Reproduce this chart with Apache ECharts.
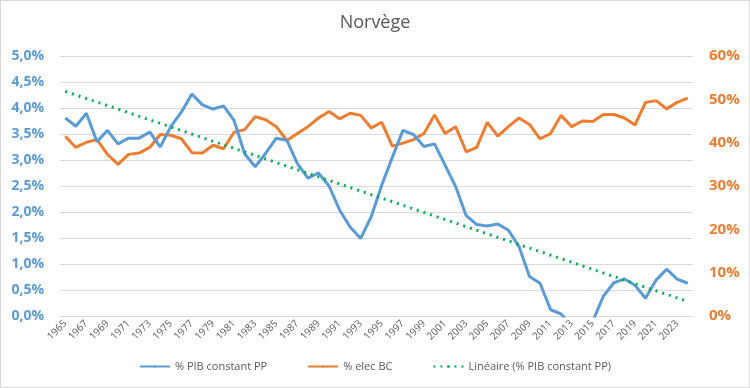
<!DOCTYPE html>
<html><head><meta charset="utf-8">
<script src="https://cdn.jsdelivr.net/npm/echarts@6/dist/echarts.min.js"></script>
<style>html,body{margin:0;padding:0;background:#fff}#c{width:750px;height:388px;box-sizing:border-box;border:1px solid #d9d9d9}</style>
</head><body><div id="c"></div>
<script>
const years = [];
for (let y = 1965; y <= 2024; y++) years.push(String(y));
const pibConstantPP = [3.81,3.65,3.90,3.35,3.57,3.31,3.42,3.42,3.54,3.25,
  3.64,3.92,4.27,4.06,3.98,4.04,3.76,3.12,2.87,3.13,
  3.42,3.38,2.93,2.65,2.75,2.50,2.04,1.71,1.49,1.91,
  2.52,3.05,3.57,3.49,3.26,3.31,2.90,2.49,1.93,1.76,
  1.73,1.77,1.65,1.34,0.76,0.63,0.12,0.04,-0.2,-0.25,
  -0.1,0.38,0.64,0.71,0.59,0.34,0.69,0.90,0.71,0.63];
const elecBC = [41.5,38.9,40.1,40.7,37.3,35.0,37.3,37.6,38.9,41.9,
  41.7,40.9,37.7,37.6,39.4,38.6,42.4,43.0,46.0,45.3,
  43.7,40.5,42.1,43.7,45.7,47.2,45.5,46.8,46.3,43.4,
  44.7,39.2,39.9,40.7,42.1,46.4,42.1,43.7,37.9,38.9,
  44.7,41.5,43.7,45.7,44.2,40.9,42.1,46.3,43.7,45.0,
  44.9,46.5,46.5,45.7,44.1,49.3,49.7,47.8,49.3,50.3];
// linear trendline endpoints
const trendStart = 4.32, trendEnd = 0.28;
const trend = years.map((y, i) => i === 0 ? trendStart : (i === years.length - 1 ? trendEnd : null));

const FONT = '"Open Sans", "Liberation Sans", sans-serif';
const chart = echarts.init(document.getElementById('c'));
chart.setOption({
  animation: false,
  textStyle: { fontFamily: FONT },
  title: { text: 'Norvège', left: 'center', top: 8, textStyle: { fontFamily: FONT, fontSize: 18, fontWeight: 'normal', color: '#595959' } },
  grid: { left: 59, right: 56, top: 55, bottom: 71 },
  legend: {
    bottom: 10, left: 'center', itemWidth: 30, itemHeight: 3, itemGap: 40,
    textStyle: { fontFamily: FONT, fontSize: 11, color: '#595959' },
    data: ['% PIB constant PP', '% elec BC', 'Linéaire (% PIB constant PP)']
  },
  xAxis: {
    type: 'category', data: years, boundaryGap: true,
    axisLine: { lineStyle: { color: '#d9d9d9' } },
    axisTick: { show: false },
    axisLabel: { interval: 1, rotate: 45, fontSize: 10, color: '#595959', margin: 6, fontFamily: FONT }
  },
  yAxis: [
    { type: 'value', min: 0, max: 5, interval: 0.5,
      axisLabel: { formatter: v => v.toFixed(1).replace('.', ',') + '%', color: '#5B9BD5', fontWeight: 'bold', fontSize: 14, margin: 16, fontFamily: FONT },
      splitLine: { lineStyle: { color: '#d9d9d9' } }, axisLine: { show: false }, axisTick: { show: false } },
    { type: 'value', min: 0, max: 60, interval: 10,
      axisLabel: { formatter: v => v + '%', color: '#ED7D31', fontWeight: 'bold', fontSize: 15, margin: 16, fontFamily: FONT },
      splitLine: { show: false }, axisLine: { show: false }, axisTick: { show: false } }
  ],
  series: [
    { name: '% PIB constant PP', type: 'line', data: pibConstantPP, yAxisIndex: 0, symbol: 'none', clip: true,
      lineStyle: { color: '#5B9BD5', width: 3 }, itemStyle: { color: '#5B9BD5' }, z: 3 },
    { name: '% elec BC', type: 'line', data: elecBC, yAxisIndex: 1, symbol: 'none',
      lineStyle: { color: '#ED7D31', width: 3 }, itemStyle: { color: '#ED7D31' }, z: 2 },
    { name: 'Linéaire (% PIB constant PP)', type: 'line', data: trend, yAxisIndex: 0, symbol: 'none', connectNulls: true,
      lineStyle: { color: '#00B050', width: 3, type: [2, 5] }, itemStyle: { color: '#00B050' }, z: 4 }
  ]
});
</script></body></html>
